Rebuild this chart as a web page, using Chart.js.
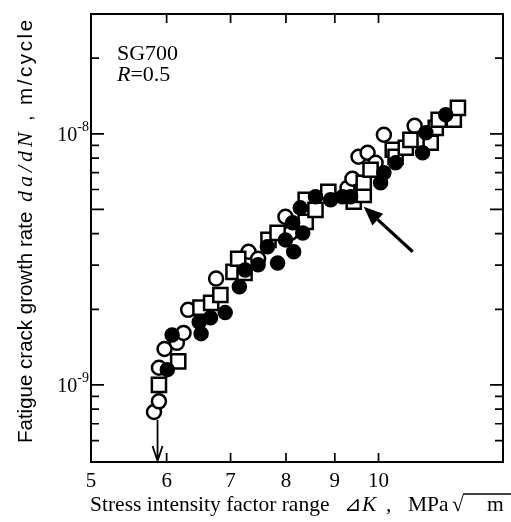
<!DOCTYPE html>
<html>
<head>
<meta charset="utf-8">
<script src="https://cdn.jsdelivr.net/npm/chart.js@4.4.0/dist/chart.umd.min.js"></script>
<style>
  html, body { margin: 0; padding: 0; background: #fff; }
</style>
</head>
<body>
<canvas id="chart" width="511" height="522"></canvas>
<script>
// ΔK in MPa√m, da/dN in units of 1e-9 m/cycle
const openK = [5.82, 5.89, 5.89, 5.97, 6.15, 6.25, 6.32, 6.76, 7.31, 7.48, 7.99, 8.09, 9.28, 9.39, 9.53, 9.74, 9.93, 10.13, 10.91];
const openRate = [0.78, 0.86, 1.17, 1.39, 1.47, 1.61, 1.99, 2.65, 3.39, 3.18, 4.67, 4.03, 6.09, 6.62, 8.10, 8.40, 7.66, 9.91, 10.76];

const filledK = [6.01, 6.08, 6.52, 6.49, 6.67, 6.91, 7.15, 7.25, 7.48, 7.65, 7.84, 7.99, 8.15, 8.13, 8.33, 8.28, 8.59, 8.91, 9.17, 9.35, 10.05, 10.13, 10.42, 11.12, 11.21, 11.76];
const filledRate = [1.15, 1.58, 1.60, 1.78, 1.85, 1.94, 2.46, 2.87, 3.01, 3.55, 3.06, 3.78, 3.39, 4.42, 4.03, 5.07, 5.61, 5.46, 5.61, 5.61, 6.38, 6.99, 7.66, 8.40, 10.09, 11.90];

const squareK = [5.89, 6.17, 6.51, 6.68, 6.83, 7.05, 7.13, 7.24, 7.67, 7.84, 8.39, 8.39, 8.59, 8.86, 9.42, 9.65, 9.65, 9.81, 10.35, 10.42, 10.68, 10.80, 11.34, 11.48, 11.56, 11.99, 12.11];
const squareRate = [1.00, 1.24, 2.03, 2.12, 2.28, 2.82, 3.18, 2.79, 3.78, 4.03, 4.46, 5.46, 4.98, 5.87, 5.36, 5.71, 6.38, 7.19, 8.64, 8.10, 8.80, 9.46, 9.21, 10.56, 11.37, 11.37, 12.69];

const xMin = 5, xMax = 13.5;
const yMin = 0.493, yMax = 30;
const xTicks = [5, 6, 7, 8, 9, 10];
const yMajor = [1, 10];
const yMajorExp = ['-9', '-8'];
const yMinor = [0.6, 0.7, 0.8, 0.9, 2, 3, 4, 5, 6, 7, 8, 9, 20];

// threshold arrow and the pointer arrow, in data units
const thresholdK = 5.87;
const thresholdTop = 0.725;
const pointerFrom = [10.86, 3.39];
const pointerTo = [9.65, 5.12];

function pts(xs, ys) {
  return xs.map((x, i) => ({ x: x, y: ys[i] }));
}

const serif = '"Liberation Serif", "Times New Roman", serif';
const sans = '"Liberation Sans", Arial, sans-serif';

// draw text one character at a time with extra spacing
function spaced(ctx, text, x, y, gap) {
  for (const ch of text) {
    ctx.fillText(ch, x, y);
    x += ctx.measureText(ch).width + gap;
  }
}

const decor = {
  id: 'decor',
  afterDraw(chart) {
    const ctx = chart.ctx;
    const a = chart.chartArea;
    const xs = chart.scales.x;
    const ys = chart.scales.y;
    ctx.save();
    ctx.strokeStyle = '#000';
    ctx.fillStyle = '#000';

    // frame
    ctx.lineWidth = 2;
    ctx.strokeRect(a.left, a.top, a.right - a.left, a.bottom - a.top);

    // ticks, pointing inwards
    ctx.lineWidth = 1.7;
    ctx.beginPath();
    xTicks.slice(1).forEach(v => {
      const px = xs.getPixelForValue(v);
      ctx.moveTo(px, a.bottom); ctx.lineTo(px, a.bottom - 9);
      ctx.moveTo(px, a.top); ctx.lineTo(px, a.top + 9);
    });
    yMajor.concat([5]).forEach(v => {
      const py = ys.getPixelForValue(v);
      ctx.moveTo(a.left, py); ctx.lineTo(a.left + 13, py);
      ctx.moveTo(a.right, py); ctx.lineTo(a.right - 13, py);
    });
    yMinor.filter(v => v !== 5).forEach(v => {
      const py = ys.getPixelForValue(v);
      ctx.moveTo(a.left, py); ctx.lineTo(a.left + 8, py);
      ctx.moveTo(a.right, py); ctx.lineTo(a.right - 8, py);
    });
    ctx.stroke();

    // x tick labels
    ctx.textBaseline = 'alphabetic';
    ctx.textAlign = 'center';
    ctx.font = '21px ' + serif;
    xTicks.forEach(v => {
      ctx.fillText(String(v), xs.getPixelForValue(v), 487);
    });

    // y tick labels 10^n
    yMajor.forEach((v, i) => {
      const py = ys.getPixelForValue(v);
      ctx.font = '14px ' + serif;
      const ew = ctx.measureText(yMajorExp[i]).width;
      ctx.textAlign = 'right';
      ctx.fillText(yMajorExp[i], 89, py - 3);
      ctx.font = '20px ' + serif;
      ctx.fillText('10', 89 - ew, py + 7);
    });

    // annotation text
    ctx.textAlign = 'left';
    ctx.font = '22px ' + serif;
    ctx.fillText('SG700', 117, 60);
    ctx.font = 'italic 22px ' + serif;
    ctx.fillText('R', 117, 81);
    const rw = ctx.measureText('R').width;
    ctx.font = '22px ' + serif;
    ctx.fillText('=0.5', 117 + rw, 81);

    // threshold arrow
    const tx = xs.getPixelForValue(thresholdK);
    const tTop = ys.getPixelForValue(thresholdTop);
    ctx.lineWidth = 1.8;
    ctx.beginPath();
    ctx.moveTo(tx, tTop); ctx.lineTo(tx, a.bottom - 1);
    ctx.moveTo(tx - 5, a.bottom - 16); ctx.lineTo(tx, a.bottom - 1); ctx.lineTo(tx + 5, a.bottom - 16);
    ctx.stroke();

    // pointer arrow
    const fx = xs.getPixelForValue(pointerFrom[0]), fy = ys.getPixelForValue(pointerFrom[1]);
    const ox = xs.getPixelForValue(pointerTo[0]), oy = ys.getPixelForValue(pointerTo[1]);
    const ang = Math.atan2(oy - fy, ox - fx);
    const hl = 19, hw = 8;
    const bx = ox - hl * Math.cos(ang), by = oy - hl * Math.sin(ang);
    ctx.lineWidth = 3.2;
    ctx.beginPath();
    ctx.moveTo(fx, fy); ctx.lineTo(bx, by);
    ctx.stroke();
    ctx.beginPath();
    ctx.moveTo(ox, oy);
    ctx.lineTo(bx + hw * Math.sin(ang), by - hw * Math.cos(ang));
    ctx.lineTo(bx - hw * Math.sin(ang), by + hw * Math.cos(ang));
    ctx.closePath();
    ctx.fill();

    // x axis title
    const yb = 511;
    ctx.font = '21.5px ' + serif;
    ctx.fillText('Stress intensity factor range', 90, yb);
    ctx.font = '21px "DejaVu Sans", sans-serif';
    ctx.fillText('\u22BF', 344, yb);
    ctx.font = 'italic 21.5px ' + serif;
    ctx.fillText('K', 362, yb);
    ctx.font = '21.5px ' + serif;
    ctx.fillText(',', 386, yb);
    ctx.fillText('MPa', 408, yb);
    ctx.fillText('\u221A', 452, yb);
    ctx.fillText('m', 487, yb);
    ctx.lineWidth = 1.4;
    ctx.beginPath();
    ctx.moveTo(463, yb - 17); ctx.lineTo(511, yb - 17);
    ctx.stroke();

    // y axis title, rotated
    ctx.save();
    ctx.translate(32, 0);
    ctx.rotate(-Math.PI / 2);
    ctx.font = '20.5px ' + sans;
    ctx.fillText('Fatigue crack growth rate', -443, 0);
    ctx.font = 'italic 22px ' + serif;
    spaced(ctx, 'da/dN', -202, 0, 4);
    ctx.font = '20.5px ' + sans;
    ctx.fillText(',', -121, 0);
    spaced(ctx, 'm/cycle', -105, 0, 2.6);
    ctx.restore();

    ctx.restore();
  }
};

new Chart(document.getElementById('chart'), {
  type: 'scatter',
  data: {
    datasets: [
      {
        label: 'filled',
        data: pts(filledK, filledRate),
        pointStyle: 'circle',
        pointRadius: 7,
        backgroundColor: '#000',
        borderColor: '#000',
        borderWidth: 1.5,
        order: 1
      },
      {
        label: 'square',
        data: pts(squareK, squareRate),
        pointStyle: 'rect',
        pointRadius: 10,
        backgroundColor: '#fff',
        borderColor: '#000',
        borderWidth: 2.5,
        order: 2
      },
      {
        label: 'open',
        data: pts(openK, openRate),
        pointStyle: 'circle',
        pointRadius: 7,
        backgroundColor: '#fff',
        borderColor: '#000',
        borderWidth: 2.5,
        order: 3
      }
    ]
  },
  options: {
    responsive: false,
    animation: false,
    devicePixelRatio: 1,
    layout: { autoPadding: false, padding: { left: 0, top: 14, right: 8, bottom: 0 } },
    plugins: { legend: { display: false }, tooltip: { enabled: false } },
    scales: {
      x: {
        type: 'logarithmic',
        min: xMin,
        max: xMax,
        grid: { display: false, drawTicks: false },
        border: { display: false },
        ticks: { display: false },
        afterFit: s => { s.height = 60; }
      },
      y: {
        type: 'logarithmic',
        min: yMin,
        max: yMax,
        grid: { display: false, drawTicks: false },
        border: { display: false },
        ticks: { display: false },
        afterFit: s => { s.width = 91; }
      }
    }
  },
  plugins: [decor]
});
</script>
</body>
</html>
